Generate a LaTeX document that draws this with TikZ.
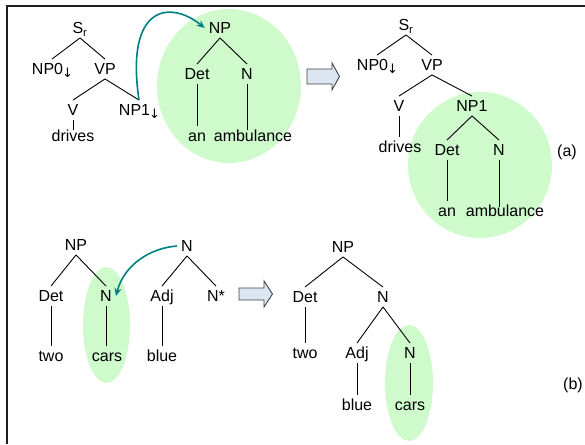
\documentclass[tikz,border=0pt]{standalone}
\usepackage{fontspec}
\setmainfont{Liberation Sans}
\newfontfamily\symfont{DejaVu Sans}
\usetikzlibrary{arrows.meta}
\definecolor{hilite}{RGB}{206,250,204}
\definecolor{moveteal}{RGB}{0,128,128}
\definecolor{arrowfill}{RGB}{220,230,242}
\definecolor{framegray}{RGB}{30,30,30}
\newcommand{\subst}{\kern-1pt\raisebox{-3pt}{\symfont\fontsize{13}{13}\selectfont ↓}\kern-1pt}
\begin{document}
\begin{tikzpicture}[x=1pt,y=-1pt,
  lab/.style={font=\fontsize{16}{19}\selectfont, text height=11.5pt, text depth=0pt, inner sep=4pt},
  branch/.style={line width=0.9pt, draw=black},
  focus/.style={fill=hilite, draw=none},
  move/.style={draw=moveteal, line width=1.6pt, -{Stealth[length=8pt,width=7pt]}},
  bigarrow/.style={draw=black!75, fill=arrowfill, line width=0.9pt, line join=miter}]
\useasboundingbox (0,0) rectangle (585,444);

% frame
\draw[framegray, line width=1.6pt] (7,444) -- (7,6) -- (585,6);

% highlighted subtrees
\fill[focus] (229,86) ellipse [x radius=72, y radius=77];
\fill[focus] (480,165) ellipse [x radius=72, y radius=73];
\fill[focus] (106.5,325) ellipse [x radius=23.5, y radius=58];
\fill[focus] (409,383) ellipse [x radius=24, y radius=58];

% ---------- (a) elementary tree for "drives"
\node[lab] (sra) at (80,28) {S\textsubscript{r}};
\node[lab] (np0a) at (52,69) {NP0\subst};
\node[lab] (vpa) at (105,69) {VP};
\node[lab] (va) at (73,110) {V};
\node[lab] (np1a) at (139,110) {NP1\subst};
\node[lab] (drivesa) at (73,136) {drives};
\draw[branch] (sra.south) -- (np0a.north);
\draw[branch] (sra.south) -- (vpa.north);
\draw[branch] (vpa.south) -- (va.north);
\draw[branch] (vpa.south) -- (np1a.north);
\draw[branch, shorten >=-4pt] (va.south) -- (drivesa.north);

% ---------- (a) initial tree "an ambulance"
\node[lab] (npx) at (220,28) {NP};
\node[lab] (detx) at (197,74) {Det};
\node[lab] (nx) at (247,74) {N};
\node[lab] (anx) at (197,136) {an};
\node[lab] (ambx) at (253,136) {ambulance};
\draw[branch] (npx.south) -- (detx.north);
\draw[branch] (npx.south) -- (nx.north);
\draw[branch] (detx.south) -- (detx.south |- anx.north);
\draw[branch, shorten >=-4pt] (nx.south) -- (nx.south |- ambx.north);

% substitution move
\draw[move] (np1a.north) .. controls (125,5) and (170,0) .. (npx.west);

% derivation step (a)
\draw[bigarrow] (307,69) -- (332,69) -- (332,63) -- (339.5,76.5) -- (332,90) -- (332,84) -- (307,84) -- cycle;

% ---------- (a) derived tree
\node[lab] (srb) at (406,25) {S\textsubscript{r}};
\node[lab] (np0b) at (377,65) {NP0\subst};
\node[lab] (vpb) at (432,65) {VP};
\node[lab] (vb) at (399,106) {V};
\node[lab] (np1b) at (472,106) {NP1};
\node[lab] (drivesb) at (400,147) {drives};
\node[lab] (detb) at (447,150) {Det};
\node[lab] (nb) at (499,150) {N};
\node[lab] (anb) at (447,211) {an};
\node[lab] (ambb) at (505,211) {ambulance};
\draw[branch] (srb.south) -- (np0b.north);
\draw[branch] (srb.south) -- (vpb.north);
\draw[branch] (vpb.south) -- (vb.north);
\draw[branch] (vpb.south) -- (np1b.north);
\draw[branch] (vb.south) -- (vb.south |- drivesb.north);
\draw[branch] (np1b.south) -- (detb.north);
\draw[branch] (np1b.south) -- (nb.north);
\draw[branch] (detb.south) -- (detb.south |- anb.north);
\draw[branch, shorten >=-6pt] (nb.south) -- (nb.south |- ambb.north);
\node[lab] (taga) at (567,151) {(a)};

% ---------- (b) initial tree "two cars"
\node[lab] (npc) at (76,245) {NP};
\node[lab] (detc) at (51,296) {Det};
\node[lab] (nc) at (106,296) {N};
\node[lab] (twoc) at (51,356) {two};
\node[lab] (carsc) at (107,356) {cars};
\draw[branch] (npc.south) -- (detc.north);
\draw[branch] (npc.south) -- (nc.north);
\draw[branch] (detc.south) -- (detc.south |- twoc.north);
\draw[branch] (nc.south) -- (nc.south |- carsc.north);

% ---------- (b) auxiliary tree "blue"
\node[lab] (naux) at (187,246) {N};
\node[lab] (adjc) at (162,296) {Adj};
\node[lab] (nstar) at (216,296) {N*};
\node[lab] (bluec) at (162,356) {blue};
\draw[branch] (naux.south) -- (adjc.north);
\draw[branch] (naux.south) -- (nstar.north);
\draw[branch] (adjc.south) -- (adjc.south |- bluec.north);

% adjunction move
\draw[move] (naux.west) .. controls (150,248) and (124,265) .. (nc.east);

% derivation step (b)
\draw[bigarrow] (239,288) -- (264,288) -- (264,281) -- (272.5,294) -- (264,307) -- (264,300) -- (239,300) -- cycle;

% ---------- (b) derived tree
\node[lab] (npd) at (343,247) {NP};
\node[lab] (detd) at (305,297) {Det};
\node[lab] (nd) at (383,297) {N};
\node[lab] (twod) at (305,353) {two};
\node[lab] (adjd) at (357,353) {Adj};
\node[lab] (ndd) at (410,353) {N};
\node[lab] (blued) at (357,405) {blue};
\node[lab] (carsd) at (410,405) {cars};
\draw[branch] (npd.south) -- (detd.north);
\draw[branch] (npd.south) -- (nd.north);
\draw[branch] (detd.south) -- (detd.south |- twod.north);
\draw[branch] (nd.south) -- (adjd.north);
\draw[branch] (nd.south) -- (ndd.north);
\draw[branch] (adjd.south) -- (adjd.south |- blued.north);
\draw[branch] (ndd.south) -- (ndd.south |- carsd.north);
\node[lab] (tagb) at (573,384) {(b)};
\end{tikzpicture}
\end{document}
